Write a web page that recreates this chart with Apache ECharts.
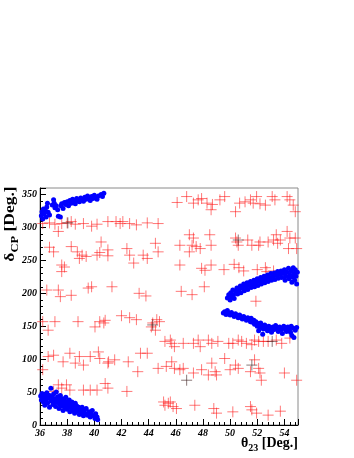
<!DOCTYPE html>
<html>
<head>
<meta charset="utf-8">
<script src="https://cdn.jsdelivr.net/npm/echarts@6/dist/echarts.min.js"></script>
<style>
  html, body { margin: 0; padding: 0; background: #fff; }
  #chart { width: 354px; height: 458px; }
</style>
</head>
<body>
<div id="chart"></div>
<script>
// theta23 [deg], deltaCP [deg]
var xTicks = [36, 38, 40, 42, 44, 46, 48, 50, 52, 54]
var yTicks = [0, 50, 100, 150, 200, 250, 300, 350]

// blue: best fit region, 4 islands
var blueTopLeft = [
  [36.1, 318], [36.15, 324], [36.2, 313], [36.25, 328], [36.3, 321], [36.4, 326], [36.45, 316], [36.5, 331],
  [36.55, 337], [36.6, 323], [36.7, 319], [36.9, 334], [37.0, 342], [37.05, 337], [37.1, 330], [37.2, 333],
  [37.3, 327], [37.35, 317], [37.5, 316], [37.55, 333], [37.6, 336], [37.7, 329], [37.8, 338], [37.9, 335],
  [38.0, 339], [38.1, 333], [38.2, 341], [38.3, 337], [38.4, 343], [38.5, 340], [38.6, 336], [38.7, 344],
  [38.8, 341], [38.9, 339], [39.0, 345], [39.1, 342], [39.2, 340], [39.3, 346], [39.4, 343], [39.5, 348],
  [39.6, 345], [39.7, 341], [39.8, 347], [39.9, 344], [40.0, 349], [40.1, 346], [40.2, 343], [40.3, 348],
  [40.5, 350], [40.6, 347], [40.7, 352]
]
var blueBottomLeft = [
  [36.05, 44], [36.1, 38], [36.15, 48], [36.2, 41], [36.25, 35], [36.3, 46], [36.35, 30], [36.4, 43],
  [36.45, 38], [36.5, 49], [36.55, 33], [36.6, 41], [36.7, 27], [36.7, 45], [36.8, 56], [36.8, 37],
  [36.9, 42], [36.95, 31], [37.0, 47], [37.05, 36], [37.1, 40], [37.15, 28], [37.2, 50], [37.25, 34],
  [37.3, 43], [37.35, 38], [37.4, 25], [37.45, 31], [37.5, 45], [37.55, 36], [37.6, 29], [37.65, 40],
  [37.7, 22], [37.75, 33], [37.8, 38], [37.85, 27], [37.9, 42], [37.95, 31], [38.0, 24], [38.05, 35],
  [38.1, 29], [38.15, 38], [38.2, 20], [38.25, 32], [38.3, 26], [38.35, 35], [38.4, 22], [38.45, 30],
  [38.5, 27], [38.55, 18], [38.6, 33], [38.65, 24], [38.7, 29], [38.8, 21], [38.85, 27], [38.9, 16],
  [39.0, 24], [39.05, 19], [39.1, 27], [39.2, 14], [39.25, 22], [39.3, 18], [39.4, 25], [39.5, 15],
  [39.6, 20], [39.7, 12], [39.75, 18], [39.85, 22], [39.95, 14], [40.05, 10], [40.1, 17], [40.2, 12],
  [40.25, 8]
]
var blueRightUpper = [
  [49.8, 193], [49.9, 198], [50.0, 190], [50.05, 201], [50.1, 195], [50.2, 205], [50.25, 198], [50.3, 192],
  [50.4, 203], [50.5, 208], [50.55, 199], [50.65, 205], [50.75, 211], [50.8, 201], [50.9, 208], [51.0, 214],
  [51.05, 204], [51.15, 210], [51.25, 216], [51.3, 206], [51.4, 212], [51.5, 218], [51.55, 209], [51.65, 214],
  [51.75, 220], [51.8, 210], [51.9, 216], [52.0, 222], [52.05, 212], [52.15, 218], [52.25, 224], [52.3, 214],
  [52.4, 220], [52.5, 226], [52.55, 216], [52.65, 222], [52.75, 228], [52.8, 218], [52.9, 224], [53.0, 230],
  [53.05, 220], [53.15, 226], [53.25, 231], [53.3, 221], [53.4, 227], [53.5, 233], [53.55, 223], [53.65, 229],
  [53.75, 234], [53.8, 224], [53.9, 230], [54.0, 236], [54.05, 220], [54.1, 226], [54.2, 232], [54.3, 238],
  [54.35, 222], [54.4, 228], [54.5, 234], [54.55, 217], [54.6, 225], [54.65, 239], [54.7, 230], [54.75, 220],
  [54.8, 236], [54.85, 226], [54.9, 214], [54.95, 232]
]
var blueRightLower = [
  [49.5, 170], [49.6, 172], [49.7, 168], [49.8, 174], [49.9, 170], [50.0, 167], [50.1, 171], [50.2, 168],
  [50.3, 165], [50.4, 169], [50.5, 166], [50.6, 163], [50.7, 167], [50.8, 164], [50.9, 161], [51.0, 165],
  [51.1, 162], [51.2, 159], [51.3, 163], [51.4, 160], [51.5, 157], [51.55, 162], [51.65, 156], [51.75, 159],
  [51.8, 153], [51.9, 157], [52.0, 150], [52.05, 154], [52.1, 143], [52.2, 148], [52.25, 155], [52.35, 151],
  [52.4, 138], [52.45, 146], [52.55, 152], [52.65, 148], [52.75, 143], [52.85, 150], [52.95, 146], [53.05, 141],
  [53.15, 149], [53.25, 145], [53.35, 151], [53.45, 147], [53.55, 142], [53.65, 149], [53.75, 145], [53.85, 139],
  [53.95, 150], [54.05, 146], [54.15, 142], [54.25, 149], [54.35, 145], [54.45, 141], [54.5, 150], [54.55, 136],
  [54.65, 147], [54.7, 133], [54.8, 144], [54.9, 148]
]

// red crosses
var redPoints = [
  // ~305 band
  [36.2, 306], [36.7, 307], [37.1, 305], [37.35, 294], [37.6, 306], [38.0, 307], [38.3, 309], [38.6, 305],
  [39.2, 306], [39.8, 302], [40.2, 305], [41.0, 309], [41.6, 309], [41.9, 306], [42.1, 309], [42.6, 306],
  [43.1, 304], [43.9, 307], [44.7, 306],
  // ~340 band right
  [46.1, 338], [46.8, 347], [47.3, 337], [47.65, 342], [47.9, 344], [48.3, 337], [48.6, 327], [48.7, 335],
  [49.25, 342], [49.6, 347], [50.4, 324], [50.7, 337], [51.1, 339], [51.5, 342], [51.7, 337], [51.95, 347],
  [52.2, 336], [52.6, 334], [53.1, 347], [53.3, 342], [54.2, 347], [54.4, 342], [54.65, 334], [54.8, 324],
  // ~260 band left
  [36.7, 270], [37.0, 263], [37.6, 243], [37.8, 240], [37.6, 233], [38.3, 271], [38.75, 263], [38.9, 253],
  [39.1, 258], [39.4, 256], [40.2, 258], [40.4, 262], [40.5, 278], [41.0, 257], [41.0, 266], [42.4, 268],
  [42.6, 258], [42.9, 246], [43.6, 258], [43.9, 253], [44.5, 276], [44.7, 263],
  // ~275 band right
  [46.3, 273], [47.0, 289], [47.3, 284], [47.2, 273], [47.5, 271], [47.0, 263], [47.8, 268], [48.5, 289],
  [48.6, 273], [50.4, 284], [50.5, 278], [50.6, 273], [51.3, 281], [51.6, 273], [52.1, 273], [52.2, 278],
  [52.8, 278], [53.2, 281], [53.4, 289], [53.5, 276], [53.7, 281], [54.2, 294], [54.4, 284], [54.3, 268],
  [54.8, 284], [54.9, 268],
  // ~238 row
  [46.3, 243], [47.9, 238], [48.15, 235], [48.6, 243], [49.55, 236], [50.3, 244], [50.65, 239], [51.0, 234],
  [52.0, 236], [52.6, 239], [52.7, 233], [53.2, 234], [54.2, 231], [51.9, 188],
  // ~200 band
  [36.5, 205], [37.35, 205], [37.5, 195], [38.3, 197], [39.55, 208], [39.8, 210], [41.3, 210], [43.3, 200],
  [43.8, 196], [46.4, 203], [47.2, 198], [48.1, 210],
  // ~155 band
  [36.2, 157], [36.6, 144], [37.1, 157], [38.8, 157], [40.05, 149], [40.4, 157], [40.7, 155], [40.8, 159],
  [42.0, 166], [42.6, 163], [43.1, 160], [44.2, 149], [44.3, 155], [44.6, 160], [44.5, 144], [44.8, 157],
  // ~100 band left
  [36.6, 104], [37.0, 106], [37.7, 96], [36.2, 84], [38.2, 109], [38.6, 94], [38.9, 104], [39.2, 91],
  [39.7, 104], [40.3, 111], [40.4, 101], [41.0, 94], [41.05, 96], [41.5, 99], [42.5, 96], [43.2, 81],
  [43.4, 109], [43.9, 109],
  // ~125 band right
  [45.2, 127], [45.6, 129], [45.7, 124], [45.9, 119], [46.55, 124], [47.3, 124], [47.65, 129], [47.8, 119],
  [48.4, 129], [48.65, 124], [49.1, 127], [49.9, 124], [50.2, 124], [50.6, 129], [50.85, 127], [51.2, 124],
  [51.6, 122], [51.8, 129], [52.1, 127], [52.45, 127], [52.8, 127], [53.4, 129], [53.8, 124], [54.4, 132],
  // ~85 band right
  [44.7, 86], [45.3, 89], [45.7, 96], [45.9, 86], [46.3, 84], [46.55, 86], [47.3, 79], [47.9, 84],
  [48.4, 76], [48.65, 94], [48.9, 81], [49.0, 76], [49.6, 101], [50.0, 84], [50.4, 91], [50.6, 86],
  [51.5, 81], [51.8, 99], [52.1, 86], [52.2, 79], [52.3, 68], [54.0, 79], [54.9, 68],
  // ~55 row left
  [37.0, 51], [37.35, 61], [37.6, 56], [37.95, 61], [38.2, 53], [39.2, 53], [39.7, 53], [40.2, 53],
  [40.8, 63], [41.0, 56], [42.4, 51],
  // ~25 row bottom
  [45.1, 35], [45.2, 30], [45.45, 33], [45.6, 35], [45.8, 28], [46.05, 25], [47.4, 30], [48.8, 25],
  [49.0, 18], [50.2, 20], [51.5, 28], [51.6, 23], [51.95, 18], [52.8, 15], [53.7, 21]
]

// dark crosses
var darkPoints = [
  [44.3, 152], [50.6, 281], [46.8, 68], [38.05, 307], [51.6, 91], [53.1, 127]
]

var crossPath = 'path://M0,5 L10,5 M5,0 L5,10'
var serif = 'Liberation Serif'

var chart = echarts.init(document.getElementById('chart'))
var labelStyle = {
  color: '#000',
  fontFamily: serif,
  fontWeight: 'bold',
  fontStyle: 'italic',
  fontSize: 10
}
var option = {
  animation: false,
  backgroundColor: '#fff',
  grid: {
    left: 40,
    right: 56,
    top: 188,
    bottom: 33,
    show: true,
    borderColor: '#8a8a8a',
    borderWidth: 1
  },
  xAxis: {
    type: 'value',
    min: 36,
    max: 55,
    interval: 2,
    axisLine: { lineStyle: { color: '#000', width: 1 } },
    axisTick: { inside: true, length: 6, lineStyle: { color: '#000' } },
    minorTick: { show: true, splitNumber: 5, length: 3, lineStyle: { color: '#000' } },
    splitLine: { show: false },
    axisLabel: Object.assign({ margin: 3, showMaxLabel: false, formatter: function(v) {
      return xTicks.indexOf(v) !== -1 ? String(v) : ''
    } }, labelStyle)
  },
  yAxis: {
    type: 'value',
    min: 0,
    max: 360,
    interval: 50,
    axisLine: { lineStyle: { color: '#000', width: 1 } },
    axisTick: { inside: true, length: 6, lineStyle: { color: '#000' } },
    minorTick: { show: true, splitNumber: 5, length: 3, lineStyle: { color: '#000' } },
    splitLine: { show: false },
    axisLabel: Object.assign({ margin: 3, showMaxLabel: false, formatter: function(v) {
      return yTicks.indexOf(v) !== -1 ? String(v) : ''
    } }, labelStyle)
  },
  graphic: [
    {
      type: 'text',
      right: 56,
      top: 436,
      style: {
        text: '{m|θ}{s|23}{m| [Deg.]}',
        fill: '#000',
        rich: {
          m: { fontFamily: serif, fontWeight: 'bold', fontSize: 14, verticalAlign: 'top' },
          s: { fontFamily: serif, fontWeight: 'bold', fontSize: 10, verticalAlign: 'bottom', padding: [7, 0, 0, 0] }
        }
      }
    },
    {
      type: 'text',
      x: 12,
      y: 224,
      rotation: Math.PI / 2,
      scaleX: 1.25,
      style: {
        text: '{m|δ}{s|CP}{m| [Deg.]}',
        fill: '#000',
        align: 'center',
        verticalAlign: 'middle',
        rich: {
          m: { fontFamily: serif, fontWeight: 'bold', fontSize: 14, verticalAlign: 'top' },
          s: { fontFamily: serif, fontWeight: 'bold', fontSize: 10, verticalAlign: 'bottom', padding: [7, 0, 0, 0] }
        }
      }
    }
  ],
  series: [
    {
      name: 'red',
      type: 'scatter',
      symbol: crossPath,
      symbolSize: 11,
      itemStyle: { color: 'rgba(0,0,0,0)', borderColor: 'rgba(255,20,20,0.72)', borderWidth: 1 },
      data: redPoints
    },
    {
      name: 'dark',
      type: 'scatter',
      symbol: crossPath,
      symbolSize: 11,
      itemStyle: { color: 'rgba(0,0,0,0)', borderColor: 'rgba(60,30,30,0.75)', borderWidth: 1 },
      data: darkPoints
    },
    {
      name: 'blue',
      type: 'scatter',
      symbol: 'circle',
      symbolSize: 5,
      itemStyle: { color: '#0000ff', opacity: 1 },
      data: blueTopLeft.concat(blueBottomLeft, blueRightUpper, blueRightLower)
    }
  ]
}
chart.setOption(option)
</script>
</body>
</html>
